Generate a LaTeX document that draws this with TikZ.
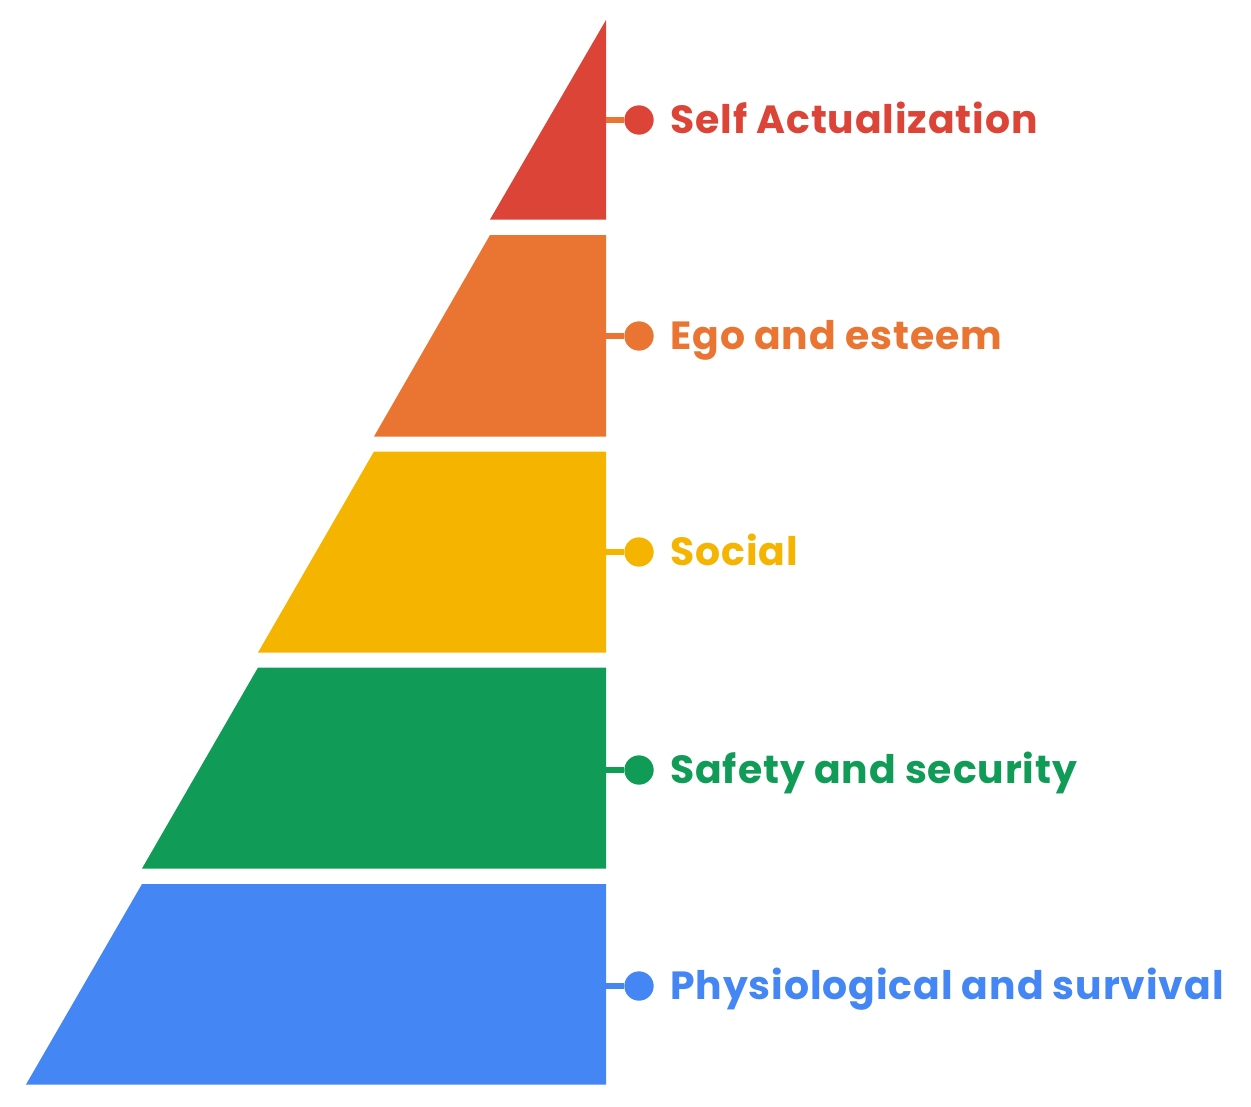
\documentclass[tikz,border=0pt]{standalone}
\usepackage{fontspec}
\setmainfont{Poppins}[LetterSpace=2.3]
\definecolor{lvred}{HTML}{DB4437}
\definecolor{lvorange}{HTML}{EA7532}
\definecolor{lvyellow}{HTML}{F4B400}
\definecolor{lvgreen}{HTML}{109C57}
\definecolor{lvblue}{HTML}{4486F4}
\tikzset{
	dot/.style={circle, minimum size=22, inner sep=0},
	levellabel/.style={anchor=base west, inner sep=0, font=\fontsize{29.5}{34}\selectfont\bfseries},
	link/.style={line width=5}
}
\begin{document}
\begin{tikzpicture}[x=0.75pt, y=-0.75pt]
		\useasboundingbox (0,0) rectangle (1251,1106);
		
		% pyramid bands
		\fill[lvred] (606,20) -- (606,219.5) -- (490,219.5) -- cycle;
		\fill[lvorange] (490,235) -- (606,235) -- (606,436.5) -- (374,436.5) -- cycle;
		\fill[lvyellow] (374,451.5) -- (606,451.5) -- (606,652.5) -- (258,652.5) -- cycle;
		\fill[lvgreen] (258,667.5) -- (606,667.5) -- (606,868.5) -- (142,868.5) -- cycle;
		\fill[lvblue] (142,884) -- (606,884) -- (606,1084.5) -- (26,1084.5) -- cycle;
		
		\coordinate (E1) at (606,120);
		\coordinate (E2) at (606,336);
		\coordinate (E3) at (606,552);
		\coordinate (E4) at (606,770);
		\coordinate (E5) at (606,986);
		
		\node[dot, fill=lvred] (D1) at (639,120) {};
		\node[dot, fill=lvorange] (D2) at (639,336) {};
		\node[dot, fill=lvyellow] (D3) at (639,552) {};
		\node[dot, fill=lvgreen] (D4) at (639,770) {};
		\node[dot, fill=lvblue] (D5) at (639,986) {};
		
		\draw[link, lvorange] (E1) -- (D1);
		\draw[link, lvorange] (E2) -- (D2);
		\draw[link, lvyellow] (E3) -- (D3);
		\draw[link, lvgreen] (E4) -- (D4);
		\draw[link, lvblue] (E5) -- (D5);
		
		\node[levellabel, text=lvred] (L1) at (670,133) {Self Actualization};
		\node[levellabel, text=lvorange] (L2) at (670,349) {Ego and esteem};
		\node[levellabel, text=lvyellow] (L3) at (670,565) {Social};
		\node[levellabel, text=lvgreen] (L4) at (670,783) {Safety and security};
		\node[levellabel, text=lvblue] (L5) at (670,999) {Physiological and survival};
	\end{tikzpicture}
\end{document}
